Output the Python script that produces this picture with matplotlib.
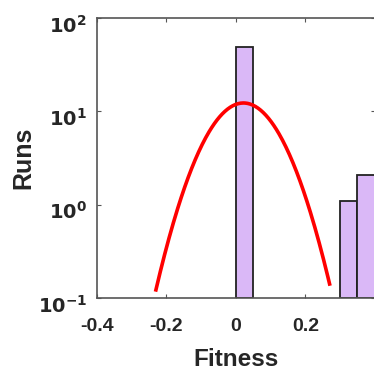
import numpy as np
import matplotlib.pyplot as plt
from matplotlib.transforms import offset_copy

plt.rcParams['font.family'] = ['Liberation Sans', 'DejaVu Sans']
plt.rcParams['font.weight'] = 'bold'
plt.rcParams['mathtext.default'] = 'bf'

# histogram bins (left edges), widths and counts
bin_left = [0.0, 0.30, 0.35]
bin_width = 0.05
counts = [49, 1, 2]

# normal fit drawn over the histogram
fit_mu = 0.022
fit_sigma = 0.083
fit_peak = 12.3
fit_range = (-0.23, 0.27)

x_ticks = [-0.4, -0.2, 0, 0.2]
x_labels = ['-0.4', '-0.2', '0', '0.2']
y_ticks = [0.1, 1, 10, 100]
y_labels = [r'$10^{-1}$', r'$10^{0}$', r'$10^{1}$', r'$10^{2}$']

fig = plt.figure(figsize=(3.74, 3.75), dpi=100)
ax = fig.add_axes([0.259, 0.205, 0.743, 0.747])

ax.bar(bin_left, counts, width=bin_width, align='edge', bottom=0.1,
       color='#dab8f7', edgecolor='#222222', linewidth=1.3, zorder=2)

xf = np.linspace(fit_range[0], fit_range[1], 200)
yf = fit_peak * np.exp(-(xf - fit_mu) ** 2 / (2 * fit_sigma ** 2))
ax.plot(xf, yf, color='red', linewidth=2.6, zorder=3)

ax.set_yscale('log')
ax.set_xlim(-0.4, 0.4)
ax.set_ylim(0.1, 100)
ax.set_xticks(x_ticks)
ax.set_xticklabels(x_labels)
ax.set_yticks(y_ticks)
ax.set_yticklabels(y_labels)
ax.minorticks_off()
ax.tick_params(direction='in', length=3, width=0.8, top=True, right=True,
               labelsize=14, colors='#555555', labelcolor='#262626')
ax.tick_params(axis='x', pad=14)
ax.tick_params(axis='y', pad=7)
# MATLAB puts the "10" of each label a little under its tick
for lab in ax.get_yticklabels():
    lab.set_transform(offset_copy(lab.get_transform(), fig=fig, y=-4, units='points'))
for s in ax.spines.values():
    s.set_color('#555555')
    s.set_linewidth(1.2)

ax.set_xlabel('Fitness', fontsize=17.5, fontweight='bold', color='#262626', labelpad=10)
ax.set_ylabel('Runs', fontsize=18, fontweight='bold', color='#262626')
ax.yaxis.set_label_coords(-0.222, 0.5)

fig.savefig('out.png', dpi=100)
